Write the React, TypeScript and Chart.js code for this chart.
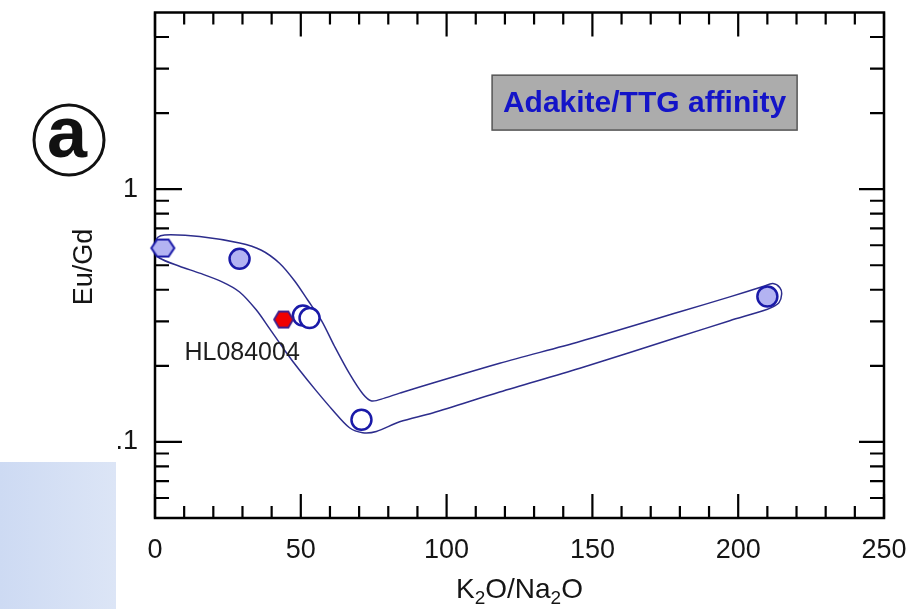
import React, { useEffect, useRef } from 'react';
import { Chart, registerables } from 'chart.js';

Chart.register(...registerables);

const FONT = '"Liberation Sans", Arial, Helvetica, sans-serif';

// ---- axes ----
const xRange = [0, 250];
const yRange = [0.05, 5];
const xMajorTicks = [0, 50, 100, 150, 200, 250];
const xMinorTicks = [10, 20, 30, 40, 60, 70, 80, 90, 110, 120, 130, 140, 160, 170, 180, 190, 210, 220, 230, 240];
const yMajorTicks = [0.1, 1];
const yMajorLabels = ['.1', '1'];
const yMinorTicks = [0.06, 0.07, 0.08, 0.09, 0.2, 0.3, 0.4, 0.5, 0.6, 0.7, 0.8, 0.9, 2, 3, 4];

// ---- samples ----
const blueHexX = [2.7];
const blueHexY = [0.585];
const redHexX = [44.1];
const redHexY = [0.305];
const blueCircleX = [29.0, 210.0];
const blueCircleY = [0.53, 0.376];
const openCircleX = [50.7, 53.0, 70.8];
const openCircleY = [0.316, 0.309, 0.1224];

// ---- field envelope (closed outline) ----
const envelopeX = [0.17, 0.86, 3.3, 15.3, 29.0, 36.5, 42.7, 47.9, 52.3, 57.1, 61.6, 66.8, 71.3, 74.3, 78.7, 83.9,
  118.2, 145.7, 180.0, 197.1, 208.5, 211.9, 214.3, 214.9, 214.0, 211.9, 208.5, 197.1, 180.0, 145.7, 118.2,
  95.2, 83.9, 75.9, 71.2, 66.7, 60.9, 55.1, 49.6, 45.0, 39.3, 34.7, 29.0, 23.2, 15.3, 8.4, 1.5, 0, 0.17];
const envelopeY = [0.610, 0.644, 0.659, 0.650, 0.612, 0.573, 0.509, 0.433, 0.365, 0.302, 0.2385, 0.1853, 0.1547, 0.1452, 0.149, 0.156,
  0.2046, 0.2496, 0.3272, 0.3748, 0.412, 0.4232, 0.4076, 0.384, 0.3558, 0.3423, 0.3302, 0.3017, 0.2611, 0.1956, 0.1575,
  0.1302, 0.1201, 0.110, 0.1088, 0.1138, 0.1338, 0.1603, 0.192, 0.2259, 0.2807, 0.3332, 0.392, 0.429, 0.4654, 0.4957, 0.5341, 0.5676, 0.610];

// ---- texts ----
const sampleLabel = 'HL084004';
const sampleLabelAt = { x: 10.1, y: 0.211 };
const boxText = 'Adakite/TTG affinity';
const boxArea = { x0: 115.6, x1: 220.2, y0: 2.825, y1: 1.713 };
const yTitle = 'Eu/Gd';
const xTitleParts: [string, boolean][] = [['K', false], ['2', true], ['O/Na', false], ['2', true], ['O', false]];
const panelLetter = 'a';

const toPts = (xs: number[], ys: number[]) => xs.map((x, i) => ({ x, y: ys[i] }));

function makeHex(w: number, h: number, fill: string, stroke: string, lw: number) {
  const c = document.createElement('canvas');
  const pad = Math.ceil(lw);
  c.width = w + pad * 2;
  c.height = h + pad * 2;
  const ctx = c.getContext('2d')!;
  ctx.translate(pad, pad);
  ctx.beginPath();
  ctx.moveTo(0, h / 2);
  ctx.lineTo(w * 0.25, 0);
  ctx.lineTo(w * 0.75, 0);
  ctx.lineTo(w, h / 2);
  ctx.lineTo(w * 0.75, h);
  ctx.lineTo(w * 0.25, h);
  ctx.closePath();
  ctx.fillStyle = fill;
  ctx.fill();
  ctx.lineWidth = lw;
  ctx.strokeStyle = stroke;
  ctx.stroke();
  return c;
}

const zeroPad = (s: any) => {
  s.paddingTop = 0;
  s.paddingBottom = 0;
  s.paddingLeft = 0;
  s.paddingRight = 0;
};

export default function App() {
  const ref = useRef<HTMLCanvasElement>(null);

  useEffect(() => {
    const canvas = ref.current!;
    const blueHex = makeHex(23, 17, '#b3b3f2', '#1a1aa8', 2);
    const redHex = makeHex(19, 16, '#f00000', '#40208a', 1.8);

    const decor = {
      id: 'decor',
      beforeDatasetsDraw(chart: any) {
        const { ctx, chartArea: ca } = chart;
        const xs = chart.scales.x, ys = chart.scales.y;
        ctx.save();
        ctx.strokeStyle = '#000';
        ctx.lineWidth = 2.5;
        ctx.strokeRect(ca.left, ca.top, ca.right - ca.left, ca.bottom - ca.top);
        ctx.lineWidth = 2.2;
        ctx.beginPath();
        const tickX = (v: number, len: number) => {
          const p = xs.getPixelForValue(v);
          ctx.moveTo(p, ca.bottom); ctx.lineTo(p, ca.bottom - len);
          ctx.moveTo(p, ca.top); ctx.lineTo(p, ca.top + len);
        };
        xMajorTicks.forEach(v => tickX(v, 24));
        xMinorTicks.forEach(v => tickX(v, 12));
        const tickY = (v: number, lenL: number, lenR: number) => {
          const p = ys.getPixelForValue(v);
          ctx.moveTo(ca.left, p); ctx.lineTo(ca.left + lenL, p);
          ctx.moveTo(ca.right, p); ctx.lineTo(ca.right - lenR, p);
        };
        yMajorTicks.forEach(v => tickY(v, 27, 25));
        yMinorTicks.forEach(v => tickY(v, 14, 14));
        ctx.stroke();
        ctx.restore();
      },
      afterDraw(chart: any) {
        const { ctx } = chart;
        const xs = chart.scales.x, ys = chart.scales.y;
        ctx.save();
        // annotation box
        const bx0 = xs.getPixelForValue(boxArea.x0), bx1 = xs.getPixelForValue(boxArea.x1);
        const by0 = ys.getPixelForValue(boxArea.y0), by1 = ys.getPixelForValue(boxArea.y1);
        ctx.fillStyle = '#acacac';
        ctx.fillRect(bx0, by0, bx1 - bx0, by1 - by0);
        ctx.strokeStyle = '#555';
        ctx.lineWidth = 1.5;
        ctx.strokeRect(bx0, by0, bx1 - bx0, by1 - by0);
        ctx.fillStyle = '#1414c8';
        ctx.font = `bold 30px ${FONT}`;
        ctx.textAlign = 'center';
        ctx.textBaseline = 'middle';
        ctx.fillText(boxText, (bx0 + bx1) / 2, (by0 + by1) / 2 + 1);

        // sample label
        ctx.fillStyle = '#1e1e1e';
        ctx.font = `25px ${FONT}`;
        ctx.textAlign = 'left';
        ctx.textBaseline = 'alphabetic';
        ctx.fillText(sampleLabel, xs.getPixelForValue(sampleLabelAt.x), ys.getPixelForValue(sampleLabelAt.y));

        // x title with subscripts
        const big = `28px ${FONT}`, small = `19px ${FONT}`;
        let total = 0;
        xTitleParts.forEach(([t, sub]) => { ctx.font = sub ? small : big; total += ctx.measureText(t).width; });
        let cx = (chart.chartArea.left + chart.chartArea.right) / 2 - total / 2;
        ctx.fillStyle = '#151515';
        xTitleParts.forEach(([t, sub]) => {
          ctx.font = sub ? small : big;
          ctx.fillText(t, cx, sub ? 604 : 598);
          cx += ctx.measureText(t).width;
        });

        // y title
        ctx.save();
        ctx.translate(85, 267);
        ctx.rotate(-Math.PI / 2);
        ctx.font = `27px ${FONT}`;
        ctx.textAlign = 'center';
        ctx.textBaseline = 'middle';
        ctx.fillText(yTitle, 0, 0);
        ctx.restore();

        // panel letter
        ctx.beginPath();
        ctx.arc(69, 140, 35, 0, Math.PI * 2);
        ctx.lineWidth = 3;
        ctx.strokeStyle = '#111';
        ctx.stroke();
        ctx.fillStyle = '#111';
        ctx.font = `bold 72px ${FONT}`;
        ctx.textAlign = 'center';
        ctx.textBaseline = 'alphabetic';
        ctx.fillText(panelLetter, 67, 157);
        ctx.restore();
      },
    };

    const chart = new Chart(canvas, {
      type: 'scatter',
      data: {
        datasets: [
          { label: 'red', data: toPts(redHexX, redHexY), pointStyle: redHex as any, pointRadius: 10, clip: false as any },
          { label: 'bluehex', data: toPts(blueHexX, blueHexY), pointStyle: blueHex as any, pointRadius: 10, clip: false as any },
          {
            label: 'open', data: toPts(openCircleX, openCircleY), pointStyle: 'circle', pointRadius: 10,
            pointBackgroundColor: '#ffffff', pointBorderColor: '#1a1aa8', pointBorderWidth: 2.5, clip: false as any,
          },
          {
            label: 'filled', data: toPts(blueCircleX, blueCircleY), pointStyle: 'circle', pointRadius: 10,
            pointBackgroundColor: '#b3b3f2', pointBorderColor: '#1a1aa8', pointBorderWidth: 2.5, clip: false as any,
          },
          {
            label: 'envelope', data: toPts(envelopeX, envelopeY), showLine: true, pointRadius: 0,
            borderColor: '#2d2d8c', borderWidth: 1.5, tension: 0.3, fill: false,
          } as any,
        ],
      },
      options: {
        responsive: false,
        animation: false,
        events: [],
        layout: { padding: { top: 9, right: 26, left: 0, bottom: 0 } },
        plugins: { legend: { display: false }, tooltip: { enabled: false } },
        scales: {
          x: {
            type: 'linear',
            min: xRange[0],
            max: xRange[1],
            grid: { display: false, drawTicks: false },
            border: { display: false },
            afterBuildTicks: (s: any) => { s.ticks = xMajorTicks.map(v => ({ value: v })); },
            afterFit: (s: any) => { s.height = 91; zeroPad(s); },
            ticks: {
              autoSkip: false,
              maxRotation: 0,
              padding: 16,
              color: '#151515',
              font: { size: 27, family: FONT },
              callback: (v: any) => String(v),
            },
          },
          y: {
            type: 'logarithmic',
            min: yRange[0],
            max: yRange[1],
            grid: { display: false, drawTicks: false },
            border: { display: false },
            afterBuildTicks: (s: any) => { s.ticks = yMajorTicks.map(v => ({ value: v })); },
            afterFit: (s: any) => { s.width = 155; zeroPad(s); },
            ticks: {
              autoSkip: false,
              padding: 17,
              color: '#151515',
              font: { size: 27, family: FONT },
              callback: (v: any) => {
                const i = yMajorTicks.indexOf(Number(v));
                return i >= 0 ? yMajorLabels[i] : '';
              },
            },
          },
        },
      },
      plugins: [decor],
    });
    return () => chart.destroy();
  }, []);

  return (
    <div style={{ position: 'absolute', left: 0, top: 0, width: 910, height: 609, background: '#fff' }}>
      <div style={{ position: 'absolute', left: 0, top: 462, width: 116, height: 147, background: 'linear-gradient(to right, #cddaf3, #dce5f6)' }} />
      <canvas ref={ref} width={910} height={609} style={{ position: 'absolute', left: 0, top: 0, display: 'block' }} />
    </div>
  );
}
